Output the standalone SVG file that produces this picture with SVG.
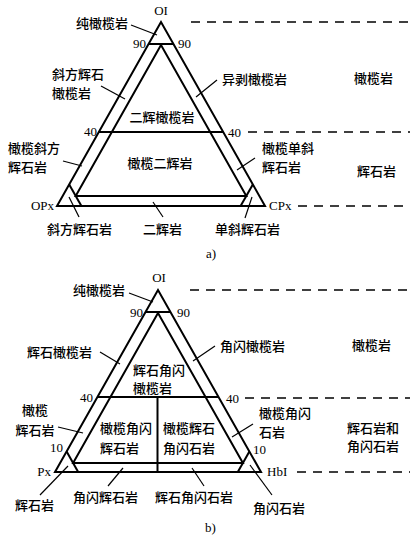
<svg xmlns="http://www.w3.org/2000/svg" width="410" height="537" viewBox="0 0 410 537">
<style>
.t{font-family:"Noto Sans CJK SC","Noto Sans",sans-serif;font-size:13px;font-weight:500;fill:#000}
.n{font-family:"Liberation Serif",serif;font-size:13px;fill:#000}
.m{text-anchor:middle}
.e{text-anchor:end}
.ln{stroke:#000;stroke-width:2;fill:none;stroke-linejoin:miter}
.ld{stroke:#000;stroke-width:1.2;fill:none}
.ds{stroke:#000;stroke-width:1.5;stroke-dasharray:9 7;fill:none}
</style>
<rect width="410" height="537" fill="#fff"/>
<g id="connectors">
  <g id="a-frame">
    <polygon class="ln" points="161,22 57,206 265,206"/>
    <line class="ln" x1="148.6" y1="44" x2="173.4" y2="44"/>
    <polygon class="ln" points="161,45 75.7,196 246.3,196"/>
    <line class="ln" x1="98.8" y1="132" x2="223.2" y2="132"/>
    <line class="ln" x1="69.2" y1="184.5" x2="81.4" y2="206"/>
    <line class="ln" x1="252.8" y1="184.5" x2="240.6" y2="206"/>
  </g>
  <g id="a-dashes">
    <line class="ds" x1="191" y1="22" x2="410" y2="22"/>
    <line class="ds" x1="248" y1="132" x2="410" y2="132"/>
    <line class="ds" x1="298" y1="206" x2="410" y2="206"/>
  </g>
  <g id="a-leaders">
    <line class="ld" x1="131" y1="25" x2="157" y2="35"/>
    <line class="ld" x1="101" y1="86" x2="125" y2="99"/>
    <line class="ld" x1="217" y1="80" x2="196" y2="97"/>
    <line class="ld" x1="63" y1="161" x2="82" y2="166"/>
    <line class="ld" x1="255" y1="158" x2="237" y2="170"/>
    <line class="ld" x1="69" y1="197" x2="79" y2="217"/>
    <line class="ld" x1="153" y1="202" x2="163" y2="217"/>
    <line class="ld" x1="252" y1="197" x2="245" y2="218"/>
  </g>
  <g id="b-frame">
    <polygon class="ln" points="158,290 55,472 261,472"/>
    <line class="ln" x1="145.5" y1="312" x2="170.5" y2="312"/>
    <polygon class="ln" points="158,313 73.1,463 242.9,463"/>
    <line class="ln" x1="97.4" y1="397" x2="218.6" y2="397"/>
    <line class="ln" x1="157.5" y1="397" x2="157.5" y2="472"/>
    <line class="ln" x1="66.6" y1="451.5" x2="78.2" y2="472"/>
    <line class="ln" x1="249.4" y1="451.5" x2="237.8" y2="472"/>
  </g>
  <g id="b-dashes">
    <line class="ds" x1="190" y1="290" x2="410" y2="290"/>
    <line class="ds" x1="245" y1="398" x2="410" y2="398"/>
    <line class="ds" x1="297" y1="472" x2="410" y2="472"/>
  </g>
  <g id="b-leaders">
    <line class="ld" x1="129" y1="293" x2="153" y2="302"/>
    <line class="ld" x1="100" y1="352" x2="120" y2="364"/>
    <line class="ld" x1="215" y1="346" x2="193" y2="361"/>
    <line class="ld" x1="58" y1="427" x2="83" y2="433"/>
    <line class="ld" x1="253" y1="424" x2="232" y2="437"/>
    <line class="ld" x1="40" y1="495" x2="68" y2="466"/>
    <line class="ld" x1="108" y1="486" x2="123" y2="468"/>
    <line class="ld" x1="192" y1="468" x2="204" y2="486"/>
    <line class="ld" x1="250" y1="465" x2="272" y2="495"/>
  </g>
</g>
<g id="a-OI"><text class="n m" x="161" y="15">OI</text></g>
<g id="a-OPx"><text class="n e" x="54" y="210">OPx</text></g>
<g id="a-CPx"><text class="n" x="269" y="210">CPx</text></g>
<g id="a-ticks">
  <text class="n e" x="146" y="48">90</text>
  <text class="n" x="178" y="48">90</text>
  <text class="n e" x="97" y="136">40</text>
  <text class="n" x="228" y="137">40</text>
</g>
<g id="a-dunite"><text class="t" x="76" y="28">纯橄榄岩</text></g>
<g id="a-harzburgite"><text class="t" x="52" y="79">斜方辉石</text><text class="t" x="52" y="98">橄榄岩</text></g>
<g id="a-wehrlite"><text class="t" x="222" y="84">异剥橄榄岩</text></g>
<g id="a-lherzolite"><text class="t m" x="162" y="122">二辉橄榄岩</text></g>
<g id="a-olwebsterite"><text class="t m" x="160" y="168">橄榄二辉岩</text></g>
<g id="a-olorthopyroxenite"><text class="t" x="8" y="153">橄榄斜方</text><text class="t" x="8" y="172">辉石岩</text></g>
<g id="a-olclinopyroxenite"><text class="t" x="262" y="153">橄榄单斜</text><text class="t" x="262" y="172">辉石岩</text></g>
<g id="a-orthopyroxenite"><text class="t" x="47" y="234">斜方辉石岩</text></g>
<g id="a-websterite"><text class="t" x="143" y="234">二辉岩</text></g>
<g id="a-clinopyroxenite"><text class="t" x="215" y="234">单斜辉石岩</text></g>
<g id="a-peridotite"><text class="t" x="354" y="83">橄榄岩</text></g>
<g id="a-pyroxenite"><text class="t" x="357" y="176">辉石岩</text></g>
<g id="a-caption"><text class="n" x="206" y="258">a)</text></g>
<g id="b-OI"><text class="n m" x="159" y="282">OI</text></g>
<g id="b-Px"><text class="n e" x="51" y="476">Px</text></g>
<g id="b-HbI"><text class="n" x="267" y="476">HbI</text></g>
<g id="b-ticks">
  <text class="n e" x="143" y="317">90</text>
  <text class="n" x="177" y="317">90</text>
  <text class="n e" x="93" y="402">40</text>
  <text class="n" x="226" y="403">40</text>
  <text class="n e" x="63" y="452">10</text>
  <text class="n" x="253" y="454">10</text>
</g>
<g id="b-dunite"><text class="t" x="73" y="295">纯橄榄岩</text></g>
<g id="b-pxperidotite"><text class="t" x="27" y="357">辉石橄榄岩</text></g>
<g id="b-hbperidotite"><text class="t" x="220" y="351">角闪橄榄岩</text></g>
<g id="b-pxhbperidotite"><text class="t" x="133" y="375">辉石角闪</text><text class="t" x="133" y="393">橄榄岩</text></g>
<g id="b-olpyroxenite"><text class="t m" x="35" y="415">橄榄</text><text class="t m" x="35" y="435">辉石岩</text></g>
<g id="b-olhbpyroxenite"><text class="t" x="100" y="433">橄榄角闪</text><text class="t" x="100" y="453">辉石岩</text></g>
<g id="b-olpxhornblendite"><text class="t" x="163" y="433">橄榄辉石</text><text class="t" x="163" y="453">角闪石岩</text></g>
<g id="b-olhornblendite"><text class="t" x="259" y="418">橄榄角闪</text><text class="t" x="259" y="437">石岩</text></g>
<g id="b-pyroxenite"><text class="t" x="15" y="510">辉石岩</text></g>
<g id="b-hbpyroxenite"><text class="t" x="73" y="502">角闪辉石岩</text></g>
<g id="b-pxhornblendite"><text class="t" x="155" y="502">辉石角闪石岩</text></g>
<g id="b-hornblendite"><text class="t" x="253" y="513">角闪石岩</text></g>
<g id="b-peridotite"><text class="t" x="352" y="350">橄榄岩</text></g>
<g id="b-pxhb"><text class="t" x="347" y="433">辉石岩和</text><text class="t" x="347" y="451">角闪石岩</text></g>
<g id="b-caption"><text class="n" x="205" y="532">b)</text></g>
</svg>
